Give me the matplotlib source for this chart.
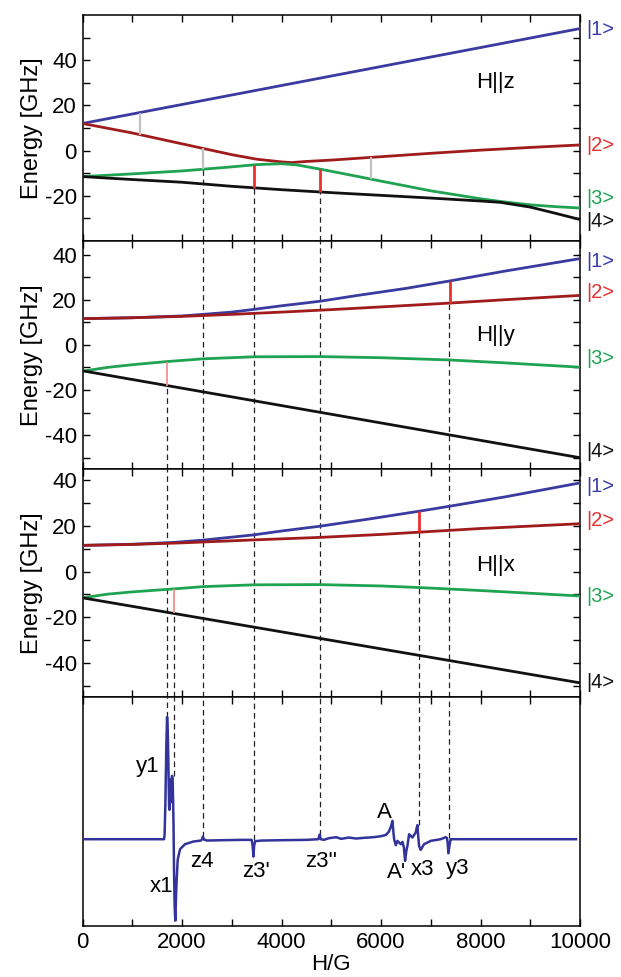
import numpy as np
import matplotlib
matplotlib.use("Agg")
import matplotlib.pyplot as plt
import matplotlib.transforms as mtransforms

plt.rcParams['font.family'] = ['Liberation Sans', 'DejaVu Sans']

# ---------------- data ----------------
# H || z energy levels (GHz) vs field (G)
Hz_1 = [0, 10000]
Ez_1 = [12, 54]
Hz_2 = [0, 1000, 2000, 3000, 3500, 4000, 4200, 4500, 5000, 6000, 7000, 8000, 9000, 10000]
Ez_2 = [12, 7.8, 3, -1.8, -3.8, -5, -5.3, -4.8, -4.2, -2.7, -1.2, 0.2, 1.4, 2.5]
Hz_3 = [0, 1000, 2000, 3000, 3500, 4000, 4300, 4800, 5500, 6000, 7000, 8000, 8400, 9000, 9500, 10000]
Ez_3 = [-11.5, -10.3, -9, -7.2, -6.2, -5.8, -6.3, -8.3, -11.3, -13.5, -17.8, -21.3, -22.5, -24, -24.8, -25.4]
Hz_4 = [0, 1000, 2000, 3000, 4000, 5000, 6000, 7000, 8000, 8400, 9000, 9500, 10000]
Ez_4 = [-11.5, -12.8, -14, -15.8, -17.3, -18.6, -19.8, -21, -22.3, -22.9, -25, -27.7, -30.5]

# H || y
Hy_1 = [0, 1000, 2000, 2420, 3000, 3440, 4000, 4770, 5500, 6500, 7380, 8500, 10000]
Ey_1 = [11.6, 12, 12.8, 13.5, 14.5, 15.7, 17.3, 19.3, 21.8, 25, 28.3, 32.7, 38.2]
Hy_2 = [0, 1000, 2000, 3000, 4000, 5000, 6000, 7380, 8500, 10000]
Ey_2 = [11.6, 12, 12.6, 13.5, 14.5, 15.6, 16.8, 18.5, 20, 21.9]
Hy_3 = [0, 500, 1000, 1700, 2420, 3440, 4770, 6000, 7380, 8500, 10000]
Ey_3 = [-11.7, -10, -8.8, -7.4, -6.2, -5.3, -5.2, -5.7, -6.7, -8, -9.9]
Hy_4 = [0, 2000, 4000, 6000, 8000, 10000]
Ey_4 = [-11.5, -19.2, -26.9, -34.6, -42.3, -50]

# H || x
Hx_1 = [0, 1000, 1830, 2420, 3440, 4000, 4770, 5800, 6770, 7360, 8500, 10000]
Ex_1 = [11.5, 12, 12.8, 13.8, 16.1, 17.8, 19.9, 23.2, 26.5, 28.6, 32.8, 38.9]
Hx_2 = [0, 1000, 2000, 3440, 4770, 6000, 6770, 8000, 10000]
Ex_2 = [11.5, 11.9, 12.6, 13.9, 15, 16.3, 17.3, 18.9, 21]
Hx_3 = [0, 500, 1000, 1830, 2420, 3440, 4770, 6000, 6770, 8000, 10000]
Ex_3 = [-11.5, -9.9, -8.9, -7.6, -6.6, -5.8, -5.7, -6.3, -7, -8.3, -10.7]
Hx_4 = [0, 2000, 4000, 6000, 8000, 10000]
Ex_4 = [-11.5, -18.96, -26.42, -33.88, -41.34, -48.8]

# EPR spectrum (arb. units)
spec_H = [0, 1600, 1640, 1650, 1665, 1685, 1700, 1712, 1725, 1740, 1748, 1758, 1770, 1785,
          1800, 1812, 1822, 1830, 1840, 1852, 1866, 1878, 1890, 1913, 1960, 2060, 2228, 2380,
          2405, 2420, 2440, 2500, 2800, 3200, 3400, 3420, 3435, 3450, 3470, 3600, 4000, 4500,
          4740, 4768, 4790, 4850, 4950, 5100, 5200, 5350, 5500, 5650, 5850, 6000, 6100, 6160,
          6200, 6230, 6250, 6264, 6297, 6331, 6398, 6431, 6460, 6484, 6510, 6531, 6565, 6631,
          6698, 6731, 6748, 6765, 6798, 6865, 6999, 7199, 7300, 7325, 7340, 7355, 7375, 7400,
          7420, 9920]
spec_S = [0, 0, 0, 15, 100, 280, 366, 330, 240, 100, 88, 180, 110, 160,
          190, 178, 110, 40, -100, -200, -244, -180, -130, -62, -30, -15, -7, -4,
          0, 8, -1, -4, -3, -2, -2, -20, -52, -20, -6, -4, -3, -2,
          0, 14, 0, -2, 3, 6, 1, 5, 2, 4, 6, 9, 13, 23,
          38, 55, 20, 0, -18, -5, -15, -8, -25, -65, -35, -20, 15, 5,
          20, 42, 10, -20, -32, -15, -5, 0, 6, 4, -10, -42, -20, 0,
          0, 0]

# transitions
z_gray_H = [1150, 2420, 5800]
z_gray_lv = [(1, 2), (2, 3), (2, 3)]
z_red_H = [3440, 4770]
z_red_lv = [(3, 4), (3, 4)]
y_pink_H, y_pink_lv = [1700], [(3, 4)]
y_red_H, y_red_lv = [7380], [(1, 2)]
x_pink_H, x_pink_lv = [1830], [(3, 4)]
x_red_H, x_red_lv = [6770], [(1, 2)]

# dashed line positions, panel where each starts, level where each starts
dash_H = [1700, 1838, 2420, 3440, 4770, 6770, 7360]
dash_start_panel = [1, 2, 0, 0, 0, 2, 1]
dash_start_level = [4, 4, 3, 4, 4, 2, 2]

peak_labels = ["y1", "x1", "z4", "z3'", "z3''", "A", "A'", "x3", "y3"]
peak_label_H = [1310, 1590, 2400, 3480, 4800, 6060, 6320, 6840, 7540]
peak_label_S = [218, -142, -67, -97, -67, 80, -100, -92, -87]

panel_titles = ["H||z", "H||y", "H||x"]
title_pos_y = [30, 4, 2.5]
state_labels = ["|1>", "|2>", "|3>", "|4>"]
state_label_y = [[53.5, 2.4, -21.3, -31.2], [37, 23, -6, -47.4], [37.4, 22.5, -11, -48.5]]

# ---------------- style ----------------
c_lv = ["#3a3aa0", "#a01c1c", "#1fa352", "#111111"]
c_lab = ["#3a3aa8", "#e53030", "#22a555", "#111111"]
c_spec = "#33339c"
FS = 16

fig = plt.figure(figsize=(6.21, 9.77), dpi=100)
W, Hfig = 621, 977
left, right = 82.5 / W, 580 / W
edges = [15, 241, 469, 697, 926]
axes = []
for i in range(4):
    b = 1 - edges[i + 1] / Hfig
    h = (edges[i + 1] - edges[i]) / Hfig
    axes.append(fig.add_axes([left, b, right - left, h]))

curves = [
    [(Hz_1, Ez_1), (Hz_2, Ez_2), (Hz_3, Ez_3), (Hz_4, Ez_4)],
    [(Hy_1, Ey_1), (Hy_2, Ey_2), (Hy_3, Ey_3), (Hy_4, Ey_4)],
    [(Hx_1, Ex_1), (Hx_2, Ex_2), (Hx_3, Ex_3), (Hx_4, Ex_4)],
]
ylims = [(-40, 60), (-55, 46), (-55, 45)]
yticks = [np.arange(-30, 51, 10), np.arange(-50, 41, 10), np.arange(-50, 41, 10)]
trans_sets = [
    [(z_gray_H, z_gray_lv, "#c0c0c0", 1.6), (z_red_H, z_red_lv, "#e8302e", 2.0)],
    [(y_pink_H, y_pink_lv, "#f29090", 1.3), (y_red_H, y_red_lv, "#e8302e", 2.0)],
    [(x_pink_H, x_pink_lv, "#f29090", 1.3), (x_red_H, x_red_lv, "#e8302e", 2.0)],
]

def lev(p, k, h):
    xs, ys = curves[p][k - 1]
    return float(np.interp(h, xs, ys))

dash_kw = dict(colors="#222222", linestyles=(0, (4.5, 3)), linewidth=0.9, zorder=1)

for p in range(3):
    ax = axes[p]
    for k in range(4):
        xs, ys = curves[p][k]
        ax.plot(xs, ys, color=c_lv[k], lw=2.0, zorder=3, solid_capstyle="butt")
    for hs, lvs, col, lw in trans_sets[p]:
        for h, (a, b) in zip(hs, lvs):
            ax.vlines(h, lev(p, b, h), lev(p, a, h), colors=col, linewidth=lw, zorder=4)
    ax.set_ylim(*ylims[p])
    ax.set_yticks(yticks[p])
    ax.set_yticklabels([str(int(v)) if v % 20 == 0 else "" for v in yticks[p]], fontsize=FS)
    ax.set_ylabel("Energy [GHz]", fontsize=FS + 1, labelpad=1)
    ax.text(8300, title_pos_y[p], panel_titles[p], fontsize=FS, ha="center", va="center")
    tr = mtransforms.blended_transform_factory(ax.transAxes, ax.transData)
    for k in range(4):
        ax.text(1.012, state_label_y[p][k], state_labels[k], color=c_lab[k], fontsize=FS - 1.5,
                transform=tr, ha="left", va="center", clip_on=False)
    for h, sp, sl in zip(dash_H, dash_start_panel, dash_start_level):
        if sp == p:
            ax.vlines(h, ylims[p][0], lev(p, sl, h), **dash_kw)
        elif sp < p:
            ax.vlines(h, ylims[p][0], ylims[p][1], **dash_kw)

# spectrum panel
ax = axes[3]
ax.plot(spec_H, spec_S, color=c_spec, lw=1.8, zorder=3)
ax.set_ylim(-260, 426)
sH = np.array(spec_H)
sS = np.array(spec_S)
for h in dash_H:
    m = (sH >= h - 40) & (sH <= h + 40)
    top = sS[m].max() if m.any() else np.interp(h, sH, sS)
    ax.vlines(h, top, 426, **dash_kw)
for t, h, s in zip(peak_labels, peak_label_H, peak_label_S):
    ax.text(h, s, t, fontsize=FS, ha="center", va="center")
ax.set_yticks([])
ax.set_xlabel("H/G", fontsize=FS, labelpad=1)

xt = np.arange(0, 10001, 1000)
for i, ax in enumerate(axes):
    ax.set_xlim(0, 10000)
    ax.set_xticks(xt)
    if i == 3:
        ax.set_xticklabels([str(int(v)) if v % 2000 == 0 else "" for v in xt], fontsize=FS)
    else:
        ax.set_xticklabels([])
    ax.tick_params(direction="in", top=True, right=True, length=5, width=1, pad=4)
    for s in ax.spines.values():
        s.set_linewidth(1.1)

fig.savefig("out.png", dpi=100)
